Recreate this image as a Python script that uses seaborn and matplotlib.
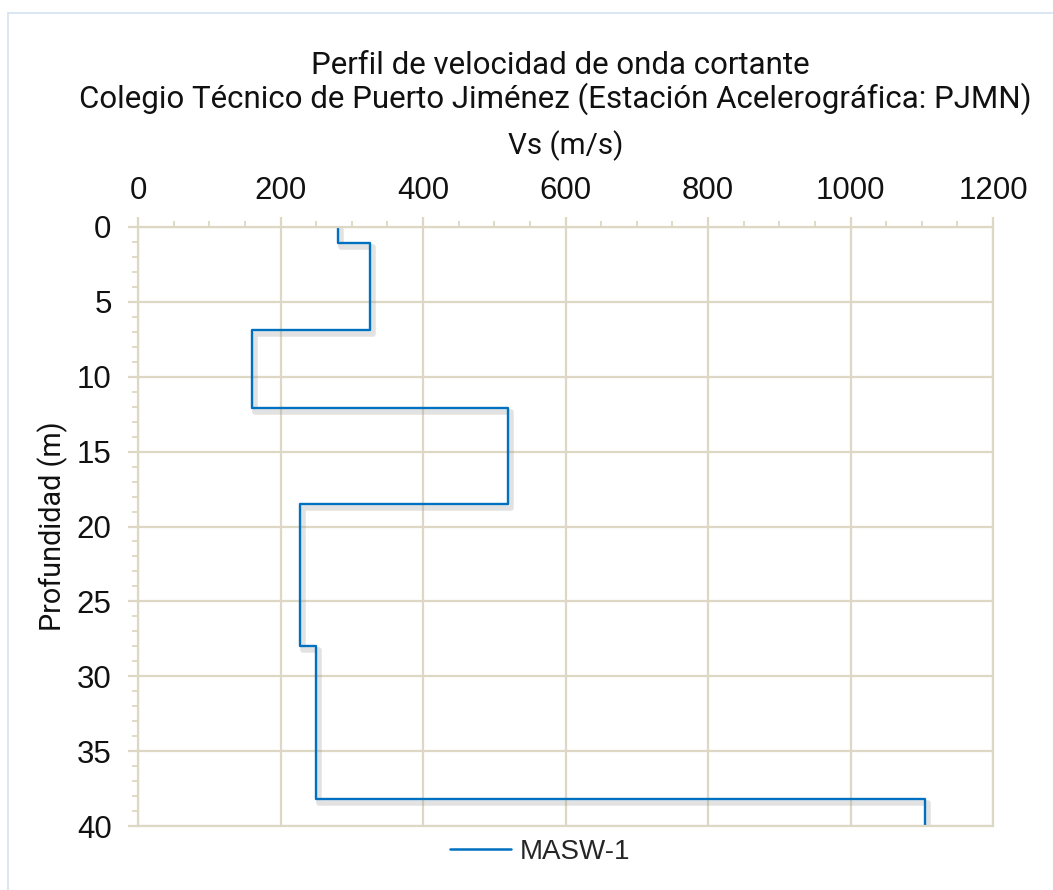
import matplotlib
matplotlib.use("Agg")
import matplotlib.pyplot as plt
import matplotlib.patheffects as pe
from matplotlib.patches import Rectangle
from matplotlib.ticker import MultipleLocator
import seaborn as sns
import pandas as pd

# Data: layer boundaries (m) and shear-wave velocities (m/s)
layer_top = [0.0, 1.1, 6.9, 12.1, 18.5, 28.0, 38.2]
layer_bottom = [1.1, 6.9, 12.1, 18.5, 28.0, 38.2, 40.0]
vs_values = [281, 326, 160, 519, 227, 250, 1105]
series_name = "MASW-1"

title_line1 = "Perfil de velocidad de onda cortante"
title_line2 = "Colegio Técnico de Puerto Jiménez (Estación Acelerográfica: PJMN)"
x_label = "Vs (m/s)"
y_label = "Profundidad (m)"

# Build step profile path from layers
xs, ys = [], []
for v, t, b in zip(vs_values, layer_top, layer_bottom):
    xs += [v, v]
    ys += [t, b]
df = pd.DataFrame({"Vs": xs, "Depth": ys, "Serie": series_name})

sns.set_theme(style="white")
plt.rcParams["font.family"] = ["Liberation Sans", "DejaVu Sans"]

W, H = 1053, 890
fig = plt.figure(figsize=(W / 100, H / 100), dpi=100)
ax = fig.add_axes([138 / W, 1 - 826 / H, (993 - 138) / W, (826 - 227) / H])

grid_c = "#DDD8C4"
line_c = "#0070C0"
title_font = ["Roboto", "DejaVu Sans"]

sns.lineplot(data=df, x="Vs", y="Depth", hue="Serie", palette=[line_c],
             sort=False, estimator=None, ax=ax, linewidth=1.7,
             path_effects=[pe.SimpleLineShadow(offset=(2, -2.5), shadow_color="#999999",
                                               alpha=0.28, linewidth=4),
                           pe.Normal()])

ax.set_xlim(0, 1200)
ax.set_ylim(40, 0)
ax.xaxis.set_major_locator(MultipleLocator(200))
ax.xaxis.set_minor_locator(MultipleLocator(50))
ax.yaxis.set_major_locator(MultipleLocator(5))
ax.yaxis.set_minor_locator(MultipleLocator(1))
ax.xaxis.tick_top()
ax.xaxis.set_label_position("top")

ax.grid(True, which="major", color=grid_c, linewidth=1.6)
ax.set_axisbelow(True)
for s in ax.spines.values():
    s.set_color(grid_c)
    s.set_linewidth(1.6)

ax.tick_params(axis="x", which="major", direction="out", length=7, width=1.6,
               color=grid_c, labelsize=22.5, pad=8, top=True, bottom=False)
ax.tick_params(axis="x", which="minor", direction="out", length=4.5, width=1.3,
               color=grid_c, top=True, bottom=False)
ax.tick_params(axis="y", which="major", direction="out", length=7, width=1.6,
               color=grid_c, labelsize=22.5, pad=12, left=True)
ax.tick_params(axis="y", which="minor", direction="out", length=4.5, width=1.3,
               color=grid_c, left=True)
for lab in ax.get_xticklabels() + ax.get_yticklabels():
    lab.set_color("#111111")

ax.set_xlabel(x_label, fontsize=21.3, family=title_font, labelpad=16, color="#111111")
ax.set_ylabel(y_label, fontsize=20.7, family=title_font, labelpad=6, color="#111111")

fig.text(560 / W, 1 - 66 / H, title_line1, ha="center", va="center", fontsize=22.5,
         family=title_font, color="#111111")
fig.text(555 / W, 1 - 99 / H, title_line2, ha="center", va="center", fontsize=22.5,
         family=title_font, color="#111111")

leg = ax.legend(loc="center", bbox_to_anchor=(540 / W, 1 - 852 / H),
                bbox_transform=fig.transFigure, frameon=False, fontsize=20,
                handlelength=2.2, handletextpad=0.3, borderaxespad=0)
for h in leg.get_lines():
    h.set_linewidth(1.8)
    h.set_path_effects([])

fig.patches.append(Rectangle((8 / W, -0.1), 1.2, 1 - 13 / H + 0.1,
                             transform=fig.transFigure, fill=False,
                             edgecolor="#D3E2F1", linewidth=1.2))

fig.savefig("out.png", dpi=100, facecolor="white")
